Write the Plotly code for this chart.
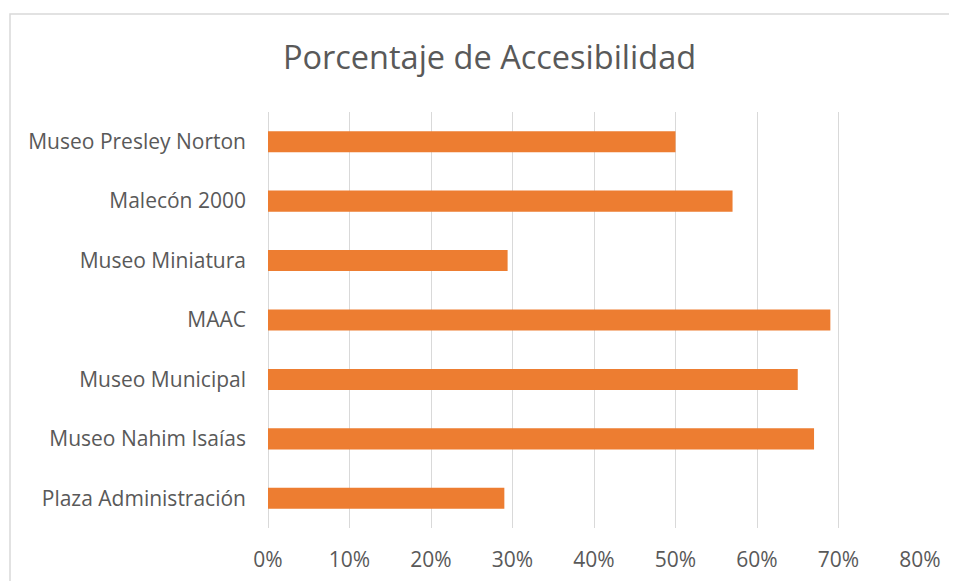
import plotly.graph_objects as go

categories = ["Museo Presley Norton", "Malecón 2000", "Museo Miniatura", "MAAC",
              "Museo Municipal", "Museo Nahim Isaías", "Plaza Administración"]
values = [0.50, 0.57, 0.294, 0.69, 0.65, 0.67, 0.29]
x_ticks = [0, 0.1, 0.2, 0.3, 0.4, 0.5, 0.6, 0.7, 0.8]
x_tick_labels = ["0%", "10%", "20%", "30%", "40%", "50%", "60%", "70%", "80%"]
title_text = "Porcentaje de Accesibilidad"

FONT = "Open Sans"
TXT = "#595959"
GRID = "#d9d9d9"

# page body has an 8px default margin; size the figure to fit the window
W, H = 949, 573
L, R, T, B = 260, 37, 104, 53
PW, PH = W - L - R, H - T - B

fig = go.Figure(go.Bar(
    x=values, y=categories, orientation="h",
    marker=dict(color="#ED7D31", line=dict(width=0)),
    hoverinfo="x+y",
))

fig.update_layout(
    width=W, height=H,
    margin=dict(l=L, r=R, t=T, b=B, autoexpand=False),
    paper_bgcolor="white", plot_bgcolor="white",
    bargap=0.646,
    showlegend=False,
    title=dict(text=title_text, x=481.5 / W, xanchor="center",
               y=1 - 50 / H, yanchor="middle",
               font=dict(family=FONT, size=32.5, color=TXT)),
    font=dict(family=FONT, color=TXT),
    xaxis=dict(range=[0, 0.8], tickvals=x_ticks, ticktext=x_tick_labels,
               showgrid=True, gridcolor=GRID, gridwidth=1,
               zeroline=True, zerolinecolor=GRID, zerolinewidth=1,
               showline=False, ticks="", ticklabelstandoff=17, automargin=False,
               tickfont=dict(family=FONT, size=21, color=TXT)),
    yaxis=dict(autorange="reversed", showgrid=False, zeroline=False,
               showline=False, ticks="", ticklabelstandoff=21, automargin=False,
               tickfont=dict(family=FONT, size=21, color=TXT)),
    shapes=[dict(type="rect", xref="paper", yref="paper",
                 x0=(2 - L) / PW, x1=(W + 20 - L) / PW,
                 y0=(T + PH - (H + 30)) / PH, y1=(T + PH - 6) / PH,
                 line=dict(color="#d9d9d9", width=1.5), fillcolor="rgba(0,0,0,0)",
                 layer="below")],
)

fig.write_html("out.html")
